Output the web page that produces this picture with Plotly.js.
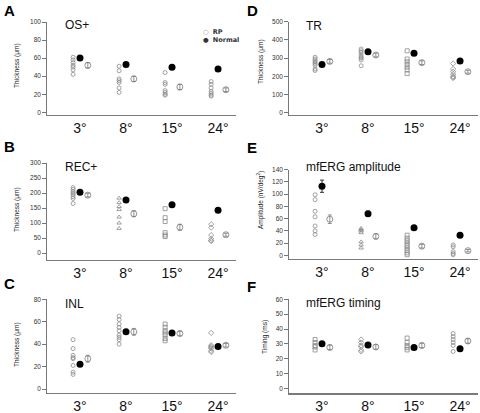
<!DOCTYPE html>
<html>
<head>
<meta charset="utf-8">
<script src="https://cdn.plot.ly/plotly-3.0.1.min.js"></script>
<style>html,body{margin:0;padding:0;background:#fff;}#chart{width:480px;height:413px;}</style>
</head>
<body>
<div id="chart"></div>
<script>
// ---- data ----
const categories = ["3°", "8°", "15°", "24°"];

// A: OS+ thickness (µm)
const rpA = [[61,58,55,52,50,47,42],[51,46,37,35,33,27,22],[44,33,31,24,22,20,19],[34,31,27,23,21,19,18]];
const normA = [60,53,50,48];
const meanA = [52,37,28,25];
const errA = [3,3,3,2];

// B: REC+ thickness (µm)
const rpB = [[218,212,205,200,195,188,182,165],[183,168,155,145,120,100,82],[148,118,105,68,60,55],[96,85,60,48,42,40]];
const normB = [203,177,161,143];
const meanB = [193,131,86,61];
const errB = [6,10,10,5];

// C: INL thickness (µm)
const rpC = [[44,36,30,28,27,21,15,13],[65,62,58,55,52,48,46,44,40],[58,55,52,50,48,45,43],[50,39,38,37,36,34,33]];
const normC = [22,51,50,38];
const meanC = [27,51,49.5,39];
const errC = [3,3,2,1.5];

// D: TR thickness (µm)
const rpD = [[305,295,285,278,270,260,240,232],[350,340,330,315,305,300,290,258],[340,295,280,265,250,235,215],[270,240,225,212,200,195,190]];
const normD = [265,335,326,284];
const meanD = [282,317,275,225];
const errD = [10,10,10,8];

// E: mfERG amplitude (nV/deg²)
const rpE = [[99,91,72,63,48,40,34],[44,42,40,37,22,17,12],[33,28,24,20,16,12,8,4,1],[17,14,6,3,1]];
const normE = [113,68,45,33];
const normErrE = [10,4,0,0];
const meanE = [59,31,15,7.6];
const errE = [7,4,3,2];

// F: mfERG timing (ms)
const rpF = [[33,31,29,28,26],[33,31,29,28,26,25],[34,31,29,27.5,26],[37,35,33,31,29,25]];
const normF = [30.2,29.3,27.7,26.8];
const meanF = [27.7,28,29,32];
const errF = [1.5,1.5,1.5,1.5];

// ---- styling / layout ----
const W = 480, H = 413;
const GREY = '#8a8a8a';
const panels = [
  {id:'', rp:rpA, norm:normA, nerr:null, mean:meanA, err:errA, syms:['circle','circle','circle','circle'],
   xd:[47,236], yTop:22, yBot:115, range:[-3,100], dtick:20, title:'OS+', ytitle:'Thickness (μm)', letter:'A', lx:2, ly:11, tx:63, ty:25, ytx:17, yty:66},
  {id:'2', rp:rpB, norm:normB, nerr:null, mean:meanB, err:errB, syms:['circle','triangle-up','square','diamond'],
   xd:[47,236], yTop:163, yBot:260, range:[-23,300], dtick:50, title:'REC+', ytitle:'Thickness (μm)', letter:'B', lx:2, ly:146, tx:63, ty:167, ytx:17, yty:210},
  {id:'3', rp:rpC, norm:normC, nerr:null, mean:meanC, err:errC, syms:['circle','circle','square','diamond'],
   xd:[47,236], yTop:299.3, yBot:392.7, range:[-3.3,80], dtick:20, title:'INL', ytitle:'Thickness (μm)', letter:'C', lx:2, ly:283, tx:63, ty:304, ytx:17, yty:345},
  {id:'4', rp:rpD, norm:normD, nerr:null, mean:meanD, err:errD, syms:['circle','circle','square','diamond'],
   xd:[289,478], yTop:21.7, yBot:115, range:[-12.6,500], dtick:100, title:'TR', ytitle:'Thickness (μm)', letter:'D', lx:245, ly:11, tx:304, ty:26, ytx:261, yty:62},
  {id:'5', rp:rpE, norm:normE, nerr:normErrE, mean:meanE, err:errE, syms:['circle','triangle-up','square','circle'],
   xd:[289,478], yTop:169.7, yBot:259, range:[-6,140], dtick:20, title:'mfERG amplitude', ytitle:'Amplitude (nV/deg<sup>2</sup>)', letter:'E', lx:245, ly:148, tx:304, ty:167, ytx:261, yty:200},
  {id:'6', rp:rpF, norm:normF, nerr:null, mean:meanF, err:errF, syms:['square','diamond','square','circle'],
   xd:[289,478], yTop:299.3, yBot:393.3, range:[-3.1,60], dtick:10, title:'mfERG timing', ytitle:'Timing (ms)', letter:'F', lx:245, ly:287, tx:304, ty:303, ytx:265, yty:337}
];

const RP_OFF = -0.15, MEAN_OFF = 0.17;
const traces = [];
const layout = {
  width: W, height: H, margin:{l:0,r:0,t:0,b:0}, showlegend:false,
  paper_bgcolor:'#fff', plot_bgcolor:'#fff',
  font:{family:'Liberation Sans, Arial, sans-serif', color:'#222'},
  annotations: []
};

panels.forEach((p) => {
  const xa = 'x'+p.id, ya = 'y'+p.id;
  // RP individual points
  const xs = [], ys = [], ss = [];
  p.rp.forEach((vals, i) => vals.forEach(v => { xs.push(i+1+RP_OFF); ys.push(v); ss.push(p.syms[i]+'-open'); }));
  traces.push({x:xs, y:ys, xaxis:xa, yaxis:ya, mode:'markers', type:'scatter', cliponaxis:false,
    marker:{symbol:ss, size:4, color:GREY, line:{width:0.8, color:GREY}}});
  // Normal
  const nt = {x:categories.map((c,i)=>i+1), y:p.norm, xaxis:xa, yaxis:ya, mode:'markers', type:'scatter', cliponaxis:false,
    marker:{symbol:'circle', size:7, color:'#000'}};
  if (p.nerr) nt.error_y = {type:'data', array:p.nerr, visible:true, color:'#000', thickness:0.8, width:2};
  traces.push(nt);
  // RP mean ± error
  traces.push({x:categories.map((c,i)=>i+1+MEAN_OFF), y:p.mean, xaxis:xa, yaxis:ya, mode:'markers', type:'scatter', cliponaxis:false,
    marker:{symbol:'circle-open', size:6, color:'#777', line:{width:0.8, color:'#777'}},
    error_y:{type:'data', array:p.err, visible:true, color:'#777', thickness:0.8, width:2}});

  const xkey = 'xaxis'+p.id, ykey = 'yaxis'+p.id;
  layout[xkey] = {domain:[p.xd[0]/W, p.xd[1]/W], anchor:ya, range:[0.283, 4.39],
    tickvals:[1,2,3,4], ticktext:categories, ticks:'', showgrid:false, zeroline:false,
    showline:true, linecolor:'#7a7a7a', linewidth:1.3, tickfont:{size:14, color:'#111'}, fixedrange:true};
  layout[ykey] = {domain:[(H-p.yBot)/H, (H-p.yTop)/H], anchor:xa, range:p.range,
    tick0:0, dtick:p.dtick, ticks:'outside', ticklen:4, tickwidth:0.8, tickcolor:'#555',
    showgrid:false, zeroline:false, showline:true, linecolor:'#555', linewidth:0.8,
    tickfont:{size:6.5, color:'#333'}, fixedrange:true};

  layout.annotations.push({xref:'paper', yref:'paper', x:p.lx/W, y:(H-p.ly)/H, text:'<b>'+p.letter+'</b>',
    showarrow:false, xanchor:'left', yanchor:'middle', font:{size:15, color:'#000', family:'Liberation Sans, Arial, sans-serif'}});
  layout.annotations.push({xref:'paper', yref:'paper', x:p.tx/W, y:(H-p.ty)/H, text:p.title,
    showarrow:false, xanchor:'left', yanchor:'middle', font:{size:12, color:'#111'}});
  layout.annotations.push({xref:'paper', yref:'paper', x:p.ytx/W, y:(H-p.yty)/H, text:p.ytitle, textangle:-90,
    showarrow:false, xanchor:'center', yanchor:'middle', font:{size:6.5, color:'#222'}});
});

// legend (panel A), one block so the lines do not overlap
layout.annotations.push({xref:'paper', yref:'paper', x:202/W, y:(H-35.5)/H,
  text:'<span style="color:#8a8a8a">○</span>  <b>RP</b><br>●  <b>Normal</b>',
  showarrow:false, xanchor:'left', yanchor:'middle', align:'left', borderpad:0,
  font:{size:6.5, color:'#333', family:'DejaVu Sans, sans-serif'}});

Plotly.newPlot('chart', traces, layout, {displayModeBar:false, staticPlot:true});
</script>
</body>
</html>
